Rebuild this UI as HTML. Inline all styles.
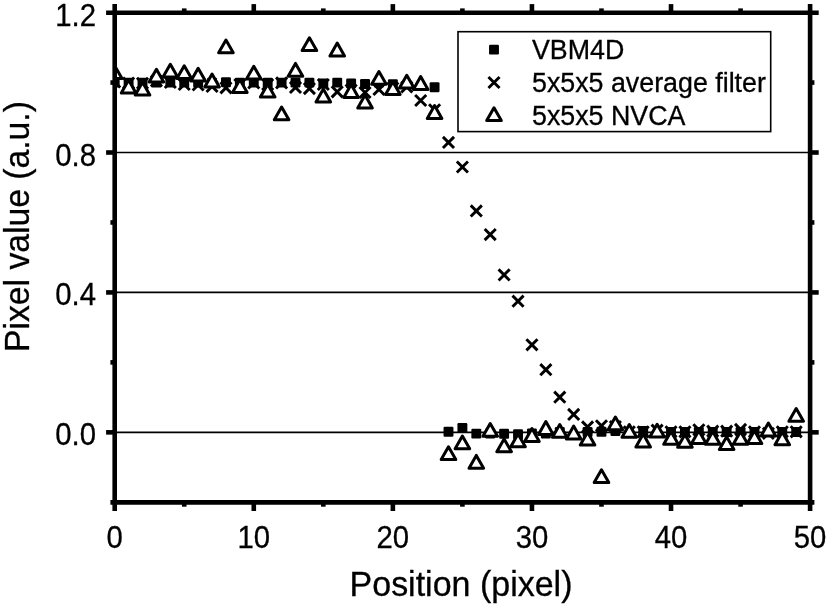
<!DOCTYPE html><html><head><meta charset="utf-8"><title>chart</title><style>html,body{margin:0;padding:0;background:#fff}body{width:827px;height:607px;overflow:hidden}svg{display:block;will-change:transform}text{font-family:"Liberation Sans",sans-serif;fill:#000;stroke:#000;stroke-width:0.3px}</style></head><body>
<svg width="827" height="607" viewBox="0 0 827 607">
<rect width="827" height="607" fill="#fff"/>
<defs><clipPath id="c"><rect x="114.70" y="2.70" width="715.40" height="509.70"/></clipPath></defs>
<line x1="114.70" x2="810.10" y1="152.51" y2="152.51" stroke="#000" stroke-width="1.65"/>
<line x1="114.70" x2="810.10" y1="292.43" y2="292.43" stroke="#000" stroke-width="1.65"/>
<line x1="114.70" x2="810.10" y1="432.34" y2="432.34" stroke="#000" stroke-width="1.65"/>
<g clip-path="url(#c)">
<rect x="109.75" y="77.65" width="9.90" height="9.90" rx="1.2" fill="#000"/>
<rect x="123.66" y="77.65" width="9.90" height="9.90" rx="1.2" fill="#000"/>
<rect x="137.57" y="77.65" width="9.90" height="9.90" rx="1.2" fill="#000"/>
<rect x="151.47" y="77.65" width="9.90" height="9.90" rx="1.2" fill="#000"/>
<rect x="165.38" y="77.65" width="9.90" height="9.90" rx="1.2" fill="#000"/>
<rect x="179.29" y="77.65" width="9.90" height="9.90" rx="1.2" fill="#000"/>
<rect x="193.20" y="77.65" width="9.90" height="9.90" rx="1.2" fill="#000"/>
<rect x="207.11" y="77.65" width="9.90" height="9.90" rx="1.2" fill="#000"/>
<rect x="221.01" y="77.25" width="9.90" height="9.90" rx="1.2" fill="#000"/>
<rect x="234.92" y="77.65" width="9.90" height="9.90" rx="1.2" fill="#000"/>
<rect x="248.83" y="77.65" width="9.90" height="9.90" rx="1.2" fill="#000"/>
<rect x="262.74" y="77.65" width="9.90" height="9.90" rx="1.2" fill="#000"/>
<rect x="276.65" y="77.65" width="9.90" height="9.90" rx="1.2" fill="#000"/>
<rect x="290.55" y="77.65" width="9.90" height="9.90" rx="1.2" fill="#000"/>
<rect x="304.46" y="77.65" width="9.90" height="9.90" rx="1.2" fill="#000"/>
<rect x="318.37" y="78.55" width="9.90" height="9.90" rx="1.2" fill="#000"/>
<rect x="332.28" y="77.65" width="9.90" height="9.90" rx="1.2" fill="#000"/>
<rect x="346.19" y="78.45" width="9.90" height="9.90" rx="1.2" fill="#000"/>
<rect x="360.09" y="79.05" width="9.90" height="9.90" rx="1.2" fill="#000"/>
<rect x="374.00" y="77.65" width="9.90" height="9.90" rx="1.2" fill="#000"/>
<rect x="387.91" y="79.35" width="9.90" height="9.90" rx="1.2" fill="#000"/>
<rect x="429.63" y="82.35" width="9.90" height="9.90" rx="1.2" fill="#000"/>
<rect x="443.54" y="426.75" width="9.90" height="9.90" rx="1.2" fill="#000"/>
<rect x="457.45" y="423.05" width="9.90" height="9.90" rx="1.2" fill="#000"/>
<rect x="471.36" y="428.65" width="9.90" height="9.90" rx="1.2" fill="#000"/>
<rect x="485.27" y="428.55" width="9.90" height="9.90" rx="1.2" fill="#000"/>
<rect x="499.17" y="428.85" width="9.90" height="9.90" rx="1.2" fill="#000"/>
<rect x="513.08" y="429.25" width="9.90" height="9.90" rx="1.2" fill="#000"/>
<rect x="526.99" y="428.55" width="9.90" height="9.90" rx="1.2" fill="#000"/>
<rect x="540.90" y="428.55" width="9.90" height="9.90" rx="1.2" fill="#000"/>
<rect x="554.81" y="427.05" width="9.90" height="9.90" rx="1.2" fill="#000"/>
<rect x="582.62" y="427.05" width="9.90" height="9.90" rx="1.2" fill="#000"/>
<rect x="596.53" y="426.75" width="9.90" height="9.90" rx="1.2" fill="#000"/>
<rect x="610.44" y="426.05" width="9.90" height="9.90" rx="1.2" fill="#000"/>
<rect x="638.25" y="426.05" width="9.90" height="9.90" rx="1.2" fill="#000"/>
<rect x="666.07" y="427.05" width="9.90" height="9.90" rx="1.2" fill="#000"/>
<rect x="679.98" y="427.05" width="9.90" height="9.90" rx="1.2" fill="#000"/>
<rect x="693.89" y="427.05" width="9.90" height="9.90" rx="1.2" fill="#000"/>
<rect x="707.79" y="427.05" width="9.90" height="9.90" rx="1.2" fill="#000"/>
<rect x="721.70" y="427.05" width="9.90" height="9.90" rx="1.2" fill="#000"/>
<rect x="735.61" y="427.05" width="9.90" height="9.90" rx="1.2" fill="#000"/>
<rect x="749.52" y="427.05" width="9.90" height="9.90" rx="1.2" fill="#000"/>
<rect x="777.33" y="427.05" width="9.90" height="9.90" rx="1.2" fill="#000"/>
<rect x="791.24" y="427.05" width="9.90" height="9.90" rx="1.2" fill="#000"/>
<path d="M109.15 76.45L120.25 87.55M109.15 87.55L120.25 76.45" stroke="#000" stroke-width="2.9" fill="none"/>
<path d="M123.06 77.45L134.16 88.55M123.06 88.55L134.16 77.45" stroke="#000" stroke-width="2.9" fill="none"/>
<path d="M136.97 77.75L148.07 88.85M136.97 88.85L148.07 77.75" stroke="#000" stroke-width="2.9" fill="none"/>
<path d="M150.87 75.45L161.97 86.55M150.87 86.55L161.97 75.45" stroke="#000" stroke-width="2.9" fill="none"/>
<path d="M164.78 76.95L175.88 88.05M164.78 88.05L175.88 76.95" stroke="#000" stroke-width="2.9" fill="none"/>
<path d="M178.69 78.95L189.79 90.05M178.69 90.05L189.79 78.95" stroke="#000" stroke-width="2.9" fill="none"/>
<path d="M192.60 79.45L203.70 90.55M192.60 90.55L203.70 79.45" stroke="#000" stroke-width="2.9" fill="none"/>
<path d="M206.51 80.85L217.61 91.95M206.51 91.95L217.61 80.85" stroke="#000" stroke-width="2.9" fill="none"/>
<path d="M220.41 82.25L231.51 93.35M220.41 93.35L231.51 82.25" stroke="#000" stroke-width="2.9" fill="none"/>
<path d="M234.32 78.95L245.42 90.05M234.32 90.05L245.42 78.95" stroke="#000" stroke-width="2.9" fill="none"/>
<path d="M248.23 77.45L259.33 88.55M248.23 88.55L259.33 77.45" stroke="#000" stroke-width="2.9" fill="none"/>
<path d="M262.14 78.95L273.24 90.05M262.14 90.05L273.24 78.95" stroke="#000" stroke-width="2.9" fill="none"/>
<path d="M276.05 77.35L287.15 88.45M276.05 88.45L287.15 77.35" stroke="#000" stroke-width="2.9" fill="none"/>
<path d="M289.95 81.85L301.05 92.95M289.95 92.95L301.05 81.85" stroke="#000" stroke-width="2.9" fill="none"/>
<path d="M303.86 83.05L314.96 94.15M303.86 94.15L314.96 83.05" stroke="#000" stroke-width="2.9" fill="none"/>
<path d="M317.77 78.95L328.87 90.05M317.77 90.05L328.87 78.95" stroke="#000" stroke-width="2.9" fill="none"/>
<path d="M331.68 86.25L342.78 97.35M331.68 97.35L342.78 86.25" stroke="#000" stroke-width="2.9" fill="none"/>
<path d="M345.59 84.45L356.69 95.55M345.59 95.55L356.69 84.45" stroke="#000" stroke-width="2.9" fill="none"/>
<path d="M359.49 86.95L370.59 98.05M359.49 98.05L370.59 86.95" stroke="#000" stroke-width="2.9" fill="none"/>
<path d="M373.40 83.85L384.50 94.95M373.40 94.95L384.50 83.85" stroke="#000" stroke-width="2.9" fill="none"/>
<path d="M387.31 82.45L398.41 93.55M387.31 93.55L398.41 82.45" stroke="#000" stroke-width="2.9" fill="none"/>
<path d="M401.22 81.45L412.32 92.55M401.22 92.55L412.32 81.45" stroke="#000" stroke-width="2.9" fill="none"/>
<path d="M415.13 94.95L426.23 106.05M415.13 106.05L426.23 94.95" stroke="#000" stroke-width="2.9" fill="none"/>
<path d="M429.03 104.25L440.13 115.35M429.03 115.35L440.13 104.25" stroke="#000" stroke-width="2.9" fill="none"/>
<path d="M442.94 136.85L454.04 147.95M442.94 147.95L454.04 136.85" stroke="#000" stroke-width="2.9" fill="none"/>
<path d="M456.85 161.45L467.95 172.55M456.85 172.55L467.95 161.45" stroke="#000" stroke-width="2.9" fill="none"/>
<path d="M470.76 205.35L481.86 216.45M470.76 216.45L481.86 205.35" stroke="#000" stroke-width="2.9" fill="none"/>
<path d="M484.67 229.05L495.77 240.15M484.67 240.15L495.77 229.05" stroke="#000" stroke-width="2.9" fill="none"/>
<path d="M498.57 269.35L509.67 280.45M498.57 280.45L509.67 269.35" stroke="#000" stroke-width="2.9" fill="none"/>
<path d="M512.48 295.65L523.58 306.75M512.48 306.75L523.58 295.65" stroke="#000" stroke-width="2.9" fill="none"/>
<path d="M526.39 339.25L537.49 350.35M526.39 350.35L537.49 339.25" stroke="#000" stroke-width="2.9" fill="none"/>
<path d="M540.30 364.15L551.40 375.25M540.30 375.25L551.40 364.15" stroke="#000" stroke-width="2.9" fill="none"/>
<path d="M554.21 391.65L565.31 402.75M554.21 402.75L565.31 391.65" stroke="#000" stroke-width="2.9" fill="none"/>
<path d="M568.11 408.85L579.21 419.95M568.11 419.95L579.21 408.85" stroke="#000" stroke-width="2.9" fill="none"/>
<path d="M582.02 421.35L593.12 432.45M582.02 432.45L593.12 421.35" stroke="#000" stroke-width="2.9" fill="none"/>
<path d="M595.93 420.25L607.03 431.35M595.93 431.35L607.03 420.25" stroke="#000" stroke-width="2.9" fill="none"/>
<path d="M609.84 420.95L620.94 432.05M609.84 432.05L620.94 420.95" stroke="#000" stroke-width="2.9" fill="none"/>
<path d="M623.75 426.25L634.85 437.35M623.75 437.35L634.85 426.25" stroke="#000" stroke-width="2.9" fill="none"/>
<path d="M637.65 426.25L648.75 437.35M637.65 437.35L648.75 426.25" stroke="#000" stroke-width="2.9" fill="none"/>
<path d="M651.56 424.65L662.66 435.75M651.56 435.75L662.66 424.65" stroke="#000" stroke-width="2.9" fill="none"/>
<path d="M665.47 426.25L676.57 437.35M665.47 437.35L676.57 426.25" stroke="#000" stroke-width="2.9" fill="none"/>
<path d="M679.38 426.25L690.48 437.35M679.38 437.35L690.48 426.25" stroke="#000" stroke-width="2.9" fill="none"/>
<path d="M693.29 424.25L704.39 435.35M693.29 435.35L704.39 424.25" stroke="#000" stroke-width="2.9" fill="none"/>
<path d="M707.19 425.65L718.29 436.75M707.19 436.75L718.29 425.65" stroke="#000" stroke-width="2.9" fill="none"/>
<path d="M721.10 425.65L732.20 436.75M721.10 436.75L732.20 425.65" stroke="#000" stroke-width="2.9" fill="none"/>
<path d="M735.01 423.85L746.11 434.95M735.01 434.95L746.11 423.85" stroke="#000" stroke-width="2.9" fill="none"/>
<path d="M748.92 426.25L760.02 437.35M748.92 437.35L760.02 426.25" stroke="#000" stroke-width="2.9" fill="none"/>
<path d="M762.83 427.75L773.93 438.85M762.83 438.85L773.93 427.75" stroke="#000" stroke-width="2.9" fill="none"/>
<path d="M776.73 426.25L787.83 437.35M776.73 437.35L787.83 426.25" stroke="#000" stroke-width="2.9" fill="none"/>
<path d="M790.64 426.25L801.74 437.35M790.64 437.35L801.74 426.25" stroke="#000" stroke-width="2.9" fill="none"/>
<path d="M114.70 65.70L122.00 78.50L107.40 78.50Z" stroke="#000" stroke-width="3.0" fill="#fff" stroke-linejoin="round"/>
<path d="M128.61 80.10L135.91 92.90L121.31 92.90Z" stroke="#000" stroke-width="3.0" fill="#fff" stroke-linejoin="round"/>
<path d="M142.52 82.30L149.82 95.10L135.22 95.10Z" stroke="#000" stroke-width="3.0" fill="#fff" stroke-linejoin="round"/>
<path d="M156.42 69.20L163.72 82.00L149.12 82.00Z" stroke="#000" stroke-width="3.0" fill="#fff" stroke-linejoin="round"/>
<path d="M170.33 64.20L177.63 77.00L163.03 77.00Z" stroke="#000" stroke-width="3.0" fill="#fff" stroke-linejoin="round"/>
<path d="M184.24 65.70L191.54 78.50L176.94 78.50Z" stroke="#000" stroke-width="3.0" fill="#fff" stroke-linejoin="round"/>
<path d="M198.15 68.25L205.45 81.05L190.85 81.05Z" stroke="#000" stroke-width="3.0" fill="#fff" stroke-linejoin="round"/>
<path d="M212.06 74.10L219.36 86.90L204.76 86.90Z" stroke="#000" stroke-width="3.0" fill="#fff" stroke-linejoin="round"/>
<path d="M225.96 40.00L233.26 52.80L218.66 52.80Z" stroke="#000" stroke-width="3.0" fill="#fff" stroke-linejoin="round"/>
<path d="M239.87 79.60L247.17 92.40L232.57 92.40Z" stroke="#000" stroke-width="3.0" fill="#fff" stroke-linejoin="round"/>
<path d="M253.78 66.25L261.08 79.05L246.48 79.05Z" stroke="#000" stroke-width="3.0" fill="#fff" stroke-linejoin="round"/>
<path d="M267.69 84.20L274.99 97.00L260.39 97.00Z" stroke="#000" stroke-width="3.0" fill="#fff" stroke-linejoin="round"/>
<path d="M281.60 107.00L288.90 119.80L274.30 119.80Z" stroke="#000" stroke-width="3.0" fill="#fff" stroke-linejoin="round"/>
<path d="M295.50 63.40L302.80 76.20L288.20 76.20Z" stroke="#000" stroke-width="3.0" fill="#fff" stroke-linejoin="round"/>
<path d="M309.41 37.80L316.71 50.60L302.11 50.60Z" stroke="#000" stroke-width="3.0" fill="#fff" stroke-linejoin="round"/>
<path d="M323.32 89.10L330.62 101.90L316.02 101.90Z" stroke="#000" stroke-width="3.0" fill="#fff" stroke-linejoin="round"/>
<path d="M337.23 43.10L344.53 55.90L329.93 55.90Z" stroke="#000" stroke-width="3.0" fill="#fff" stroke-linejoin="round"/>
<path d="M351.14 84.60L358.44 97.40L343.84 97.40Z" stroke="#000" stroke-width="3.0" fill="#fff" stroke-linejoin="round"/>
<path d="M365.04 95.10L372.34 107.90L357.74 107.90Z" stroke="#000" stroke-width="3.0" fill="#fff" stroke-linejoin="round"/>
<path d="M378.95 71.50L386.25 84.30L371.65 84.30Z" stroke="#000" stroke-width="3.0" fill="#fff" stroke-linejoin="round"/>
<path d="M392.86 81.70L400.16 94.50L385.56 94.50Z" stroke="#000" stroke-width="3.0" fill="#fff" stroke-linejoin="round"/>
<path d="M406.77 75.20L414.07 88.00L399.47 88.00Z" stroke="#000" stroke-width="3.0" fill="#fff" stroke-linejoin="round"/>
<path d="M420.68 76.60L427.98 89.40L413.38 89.40Z" stroke="#000" stroke-width="3.0" fill="#fff" stroke-linejoin="round"/>
<path d="M434.58 105.60L441.88 118.40L427.28 118.40Z" stroke="#000" stroke-width="3.0" fill="#fff" stroke-linejoin="round"/>
<path d="M448.49 446.80L455.79 459.60L441.19 459.60Z" stroke="#000" stroke-width="3.0" fill="#fff" stroke-linejoin="round"/>
<path d="M462.40 436.00L469.70 448.80L455.10 448.80Z" stroke="#000" stroke-width="3.0" fill="#fff" stroke-linejoin="round"/>
<path d="M476.31 455.40L483.61 468.20L469.01 468.20Z" stroke="#000" stroke-width="3.0" fill="#fff" stroke-linejoin="round"/>
<path d="M490.22 423.50L497.52 436.30L482.92 436.30Z" stroke="#000" stroke-width="3.0" fill="#fff" stroke-linejoin="round"/>
<path d="M504.12 438.90L511.42 451.70L496.82 451.70Z" stroke="#000" stroke-width="3.0" fill="#fff" stroke-linejoin="round"/>
<path d="M518.03 434.00L525.33 446.80L510.73 446.80Z" stroke="#000" stroke-width="3.0" fill="#fff" stroke-linejoin="round"/>
<path d="M531.94 428.60L539.24 441.40L524.64 441.40Z" stroke="#000" stroke-width="3.0" fill="#fff" stroke-linejoin="round"/>
<path d="M545.85 421.60L553.15 434.40L538.55 434.40Z" stroke="#000" stroke-width="3.0" fill="#fff" stroke-linejoin="round"/>
<path d="M559.76 424.50L567.06 437.30L552.46 437.30Z" stroke="#000" stroke-width="3.0" fill="#fff" stroke-linejoin="round"/>
<path d="M573.66 426.10L580.96 438.90L566.36 438.90Z" stroke="#000" stroke-width="3.0" fill="#fff" stroke-linejoin="round"/>
<path d="M587.57 432.20L594.87 445.00L580.27 445.00Z" stroke="#000" stroke-width="3.0" fill="#fff" stroke-linejoin="round"/>
<path d="M601.48 469.80L608.78 482.60L594.18 482.60Z" stroke="#000" stroke-width="3.0" fill="#fff" stroke-linejoin="round"/>
<path d="M615.39 417.00L622.69 429.80L608.09 429.80Z" stroke="#000" stroke-width="3.0" fill="#fff" stroke-linejoin="round"/>
<path d="M629.30 424.50L636.60 437.30L622.00 437.30Z" stroke="#000" stroke-width="3.0" fill="#fff" stroke-linejoin="round"/>
<path d="M643.20 434.10L650.50 446.90L635.90 446.90Z" stroke="#000" stroke-width="3.0" fill="#fff" stroke-linejoin="round"/>
<path d="M657.11 424.30L664.41 437.10L649.81 437.10Z" stroke="#000" stroke-width="3.0" fill="#fff" stroke-linejoin="round"/>
<path d="M671.02 431.50L678.32 444.30L663.72 444.30Z" stroke="#000" stroke-width="3.0" fill="#fff" stroke-linejoin="round"/>
<path d="M684.93 434.50L692.23 447.30L677.63 447.30Z" stroke="#000" stroke-width="3.0" fill="#fff" stroke-linejoin="round"/>
<path d="M698.84 430.80L706.14 443.60L691.54 443.60Z" stroke="#000" stroke-width="3.0" fill="#fff" stroke-linejoin="round"/>
<path d="M712.74 431.50L720.04 444.30L705.44 444.30Z" stroke="#000" stroke-width="3.0" fill="#fff" stroke-linejoin="round"/>
<path d="M726.65 436.70L733.95 449.50L719.35 449.50Z" stroke="#000" stroke-width="3.0" fill="#fff" stroke-linejoin="round"/>
<path d="M740.56 431.50L747.86 444.30L733.26 444.30Z" stroke="#000" stroke-width="3.0" fill="#fff" stroke-linejoin="round"/>
<path d="M754.47 430.80L761.77 443.60L747.17 443.60Z" stroke="#000" stroke-width="3.0" fill="#fff" stroke-linejoin="round"/>
<path d="M768.38 423.10L775.68 435.90L761.08 435.90Z" stroke="#000" stroke-width="3.0" fill="#fff" stroke-linejoin="round"/>
<path d="M782.28 431.90L789.58 444.70L774.98 444.70Z" stroke="#000" stroke-width="3.0" fill="#fff" stroke-linejoin="round"/>
<path d="M796.19 408.50L803.49 421.30L788.89 421.30Z" stroke="#000" stroke-width="3.0" fill="#fff" stroke-linejoin="round"/>
</g>
<g stroke="#000" stroke-width="4.6" fill="none">
<line x1="114.70" x2="114.70" y1="4.10" y2="511.00"/>
<line x1="810.10" x2="810.10" y1="4.10" y2="511.00"/>
<line x1="106.10" x2="818.70" y1="12.70" y2="12.70"/>
<line x1="110.40" x2="814.40" y1="502.40" y2="502.40"/>
</g>
<g stroke="#000" stroke-width="4.6">
<line x1="184.24" x2="184.24" y1="12.70" y2="8.40"/>
<line x1="184.24" x2="184.24" y1="502.40" y2="506.70"/>
<line x1="253.78" x2="253.78" y1="12.70" y2="4.10"/>
<line x1="253.78" x2="253.78" y1="502.40" y2="511.00"/>
<line x1="323.32" x2="323.32" y1="12.70" y2="8.40"/>
<line x1="323.32" x2="323.32" y1="502.40" y2="506.70"/>
<line x1="392.86" x2="392.86" y1="12.70" y2="4.10"/>
<line x1="392.86" x2="392.86" y1="502.40" y2="511.00"/>
<line x1="462.40" x2="462.40" y1="12.70" y2="8.40"/>
<line x1="462.40" x2="462.40" y1="502.40" y2="506.70"/>
<line x1="531.94" x2="531.94" y1="12.70" y2="4.10"/>
<line x1="531.94" x2="531.94" y1="502.40" y2="511.00"/>
<line x1="601.48" x2="601.48" y1="12.70" y2="8.40"/>
<line x1="601.48" x2="601.48" y1="502.40" y2="506.70"/>
<line x1="671.02" x2="671.02" y1="12.70" y2="4.10"/>
<line x1="671.02" x2="671.02" y1="502.40" y2="511.00"/>
<line x1="740.56" x2="740.56" y1="12.70" y2="8.40"/>
<line x1="740.56" x2="740.56" y1="502.40" y2="506.70"/>
<line x1="114.70" x2="110.40" y1="82.56" y2="82.56"/>
<line x1="810.10" x2="814.40" y1="82.56" y2="82.56"/>
<line x1="114.70" x2="106.10" y1="152.51" y2="152.51"/>
<line x1="810.10" x2="818.70" y1="152.51" y2="152.51"/>
<line x1="114.70" x2="110.40" y1="222.47" y2="222.47"/>
<line x1="810.10" x2="814.40" y1="222.47" y2="222.47"/>
<line x1="114.70" x2="106.10" y1="292.43" y2="292.43"/>
<line x1="810.10" x2="818.70" y1="292.43" y2="292.43"/>
<line x1="114.70" x2="110.40" y1="362.39" y2="362.39"/>
<line x1="810.10" x2="814.40" y1="362.39" y2="362.39"/>
<line x1="114.70" x2="106.10" y1="432.34" y2="432.34"/>
<line x1="810.10" x2="818.70" y1="432.34" y2="432.34"/>
</g>
<text transform="translate(96.00 25.60) scale(0.945 1)" font-size="31" text-anchor="end">1.2</text>
<text transform="translate(96.00 165.51) scale(0.945 1)" font-size="31" text-anchor="end">0.8</text>
<text transform="translate(96.00 305.43) scale(0.945 1)" font-size="31" text-anchor="end">0.4</text>
<text transform="translate(96.00 445.34) scale(0.945 1)" font-size="31" text-anchor="end">0.0</text>
<text transform="translate(114.70 547.60) scale(0.945 1)" font-size="31" text-anchor="middle">0</text>
<text transform="translate(253.78 547.60) scale(0.945 1)" font-size="31" text-anchor="middle">10</text>
<text transform="translate(392.86 547.60) scale(0.945 1)" font-size="31" text-anchor="middle">20</text>
<text transform="translate(531.94 547.60) scale(0.945 1)" font-size="31" text-anchor="middle">30</text>
<text transform="translate(671.02 547.60) scale(0.945 1)" font-size="31" text-anchor="middle">40</text>
<text transform="translate(810.10 547.60) scale(0.945 1)" font-size="31" text-anchor="middle">50</text>
<text transform="translate(461.00 596.00) scale(1 1.03)" font-size="34" text-anchor="middle">Position (pixel)</text>
<text transform="translate(29.20 226.50) rotate(-90) scale(1 1.03)" font-size="33.7" text-anchor="middle">Pixel value (a.u.)</text>
<rect x="458.00" y="31.70" width="312.70" height="99.90" fill="#fff" stroke="#000" stroke-width="1.6"/>
<rect x="489.05" y="44.65" width="9.90" height="9.90" rx="1.2" fill="#000"/>
<path d="M488.45 76.95L499.55 88.05M488.45 88.05L499.55 76.95" stroke="#000" stroke-width="2.9" fill="none"/>
<path d="M494.00 107.80L501.30 120.60L486.70 120.60Z" stroke="#000" stroke-width="3.0" fill="#fff" stroke-linejoin="round"/>
<text x="532.00" y="58.80" font-size="26.8">VBM4D</text>
<text x="532.00" y="91.60" font-size="26.8">5x5x5 average filter</text>
<text x="532.00" y="125.20" font-size="26.8">5x5x5 NVCA</text>
</svg></body></html>
